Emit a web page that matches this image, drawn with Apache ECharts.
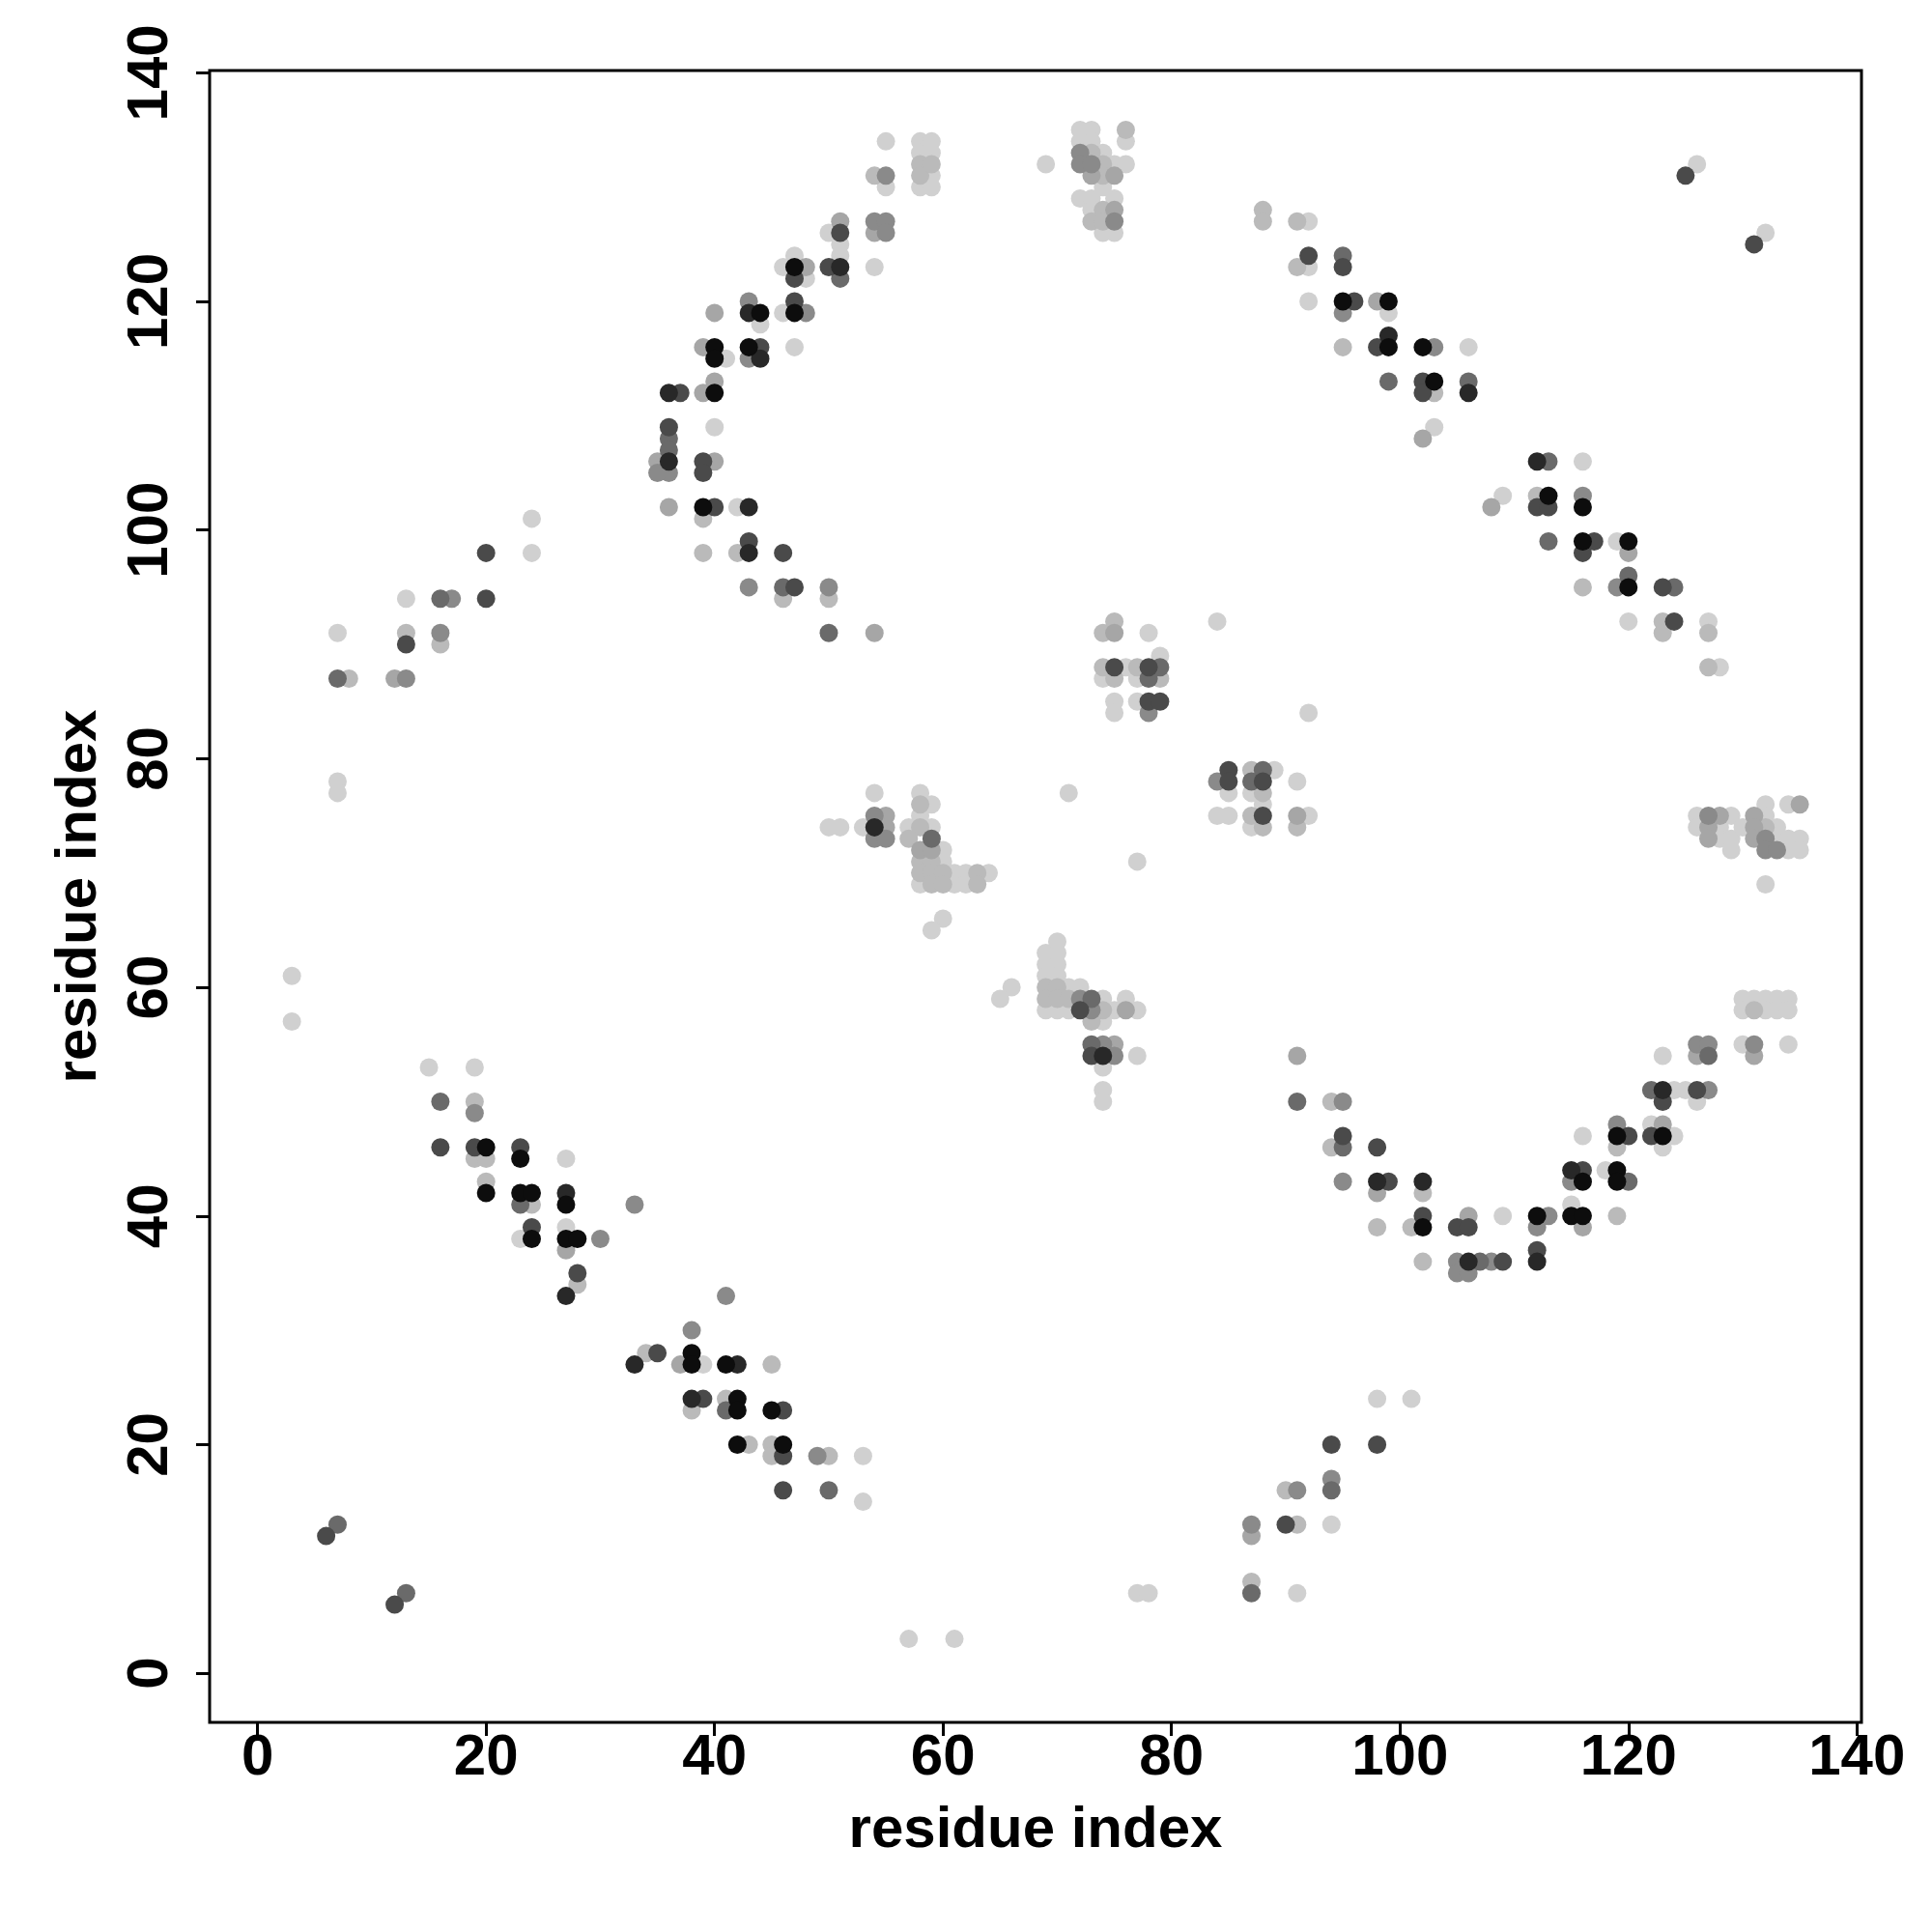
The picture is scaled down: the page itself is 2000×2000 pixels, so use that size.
<!DOCTYPE html>
<html>
<head>
<meta charset="utf-8">
<script src="https://cdn.jsdelivr.net/npm/echarts@6/dist/echarts.min.js"></script>
<style>
html,body{margin:0;padding:0;background:#fff;}
#chart{width:2000px;height:2000px;}
</style>
</head>
<body>
<div id="chart"></div>
<script>
// Tick labels
const tickValues = [0, 20, 40, 60, 80, 100, 120, 140];
const axisTitle = 'residue index';

// Gray shades (darkest = strongest contact)
const shadeLevels = ['#0d0d0d', '#282828', '#4a4a4a', '#6a6a6a', '#8a8a8a', '#a6a6a6', '#bababa', '#d0d0d0'];

// Contacts [i, j] grouped by shade level
const contactsL1 = [
  [20,46],[23,45],[20,42],[23,42],[24,42],[27,41],[24,38],[27,38],[28,38],[38,28],[38,27],[41,27],
  [42,24],[42,23],[45,23],[42,20],[46,20],
  [47,123],[44,119],[47,119],[40,116],[40,115],[43,116],[40,112],[39,102],
  [95,120],[99,120],[99,116],[102,116],[103,113],[113,103],[116,102],[116,99],[120,99],[120,95],
  [102,39],[112,40],[119,47],[123,47],[119,44],[116,43],[119,43],[115,40],[116,40]
];
const contactsL2 = [
  [27,42],[27,33],[33,27],[42,27],[38,24],
  [51,123],[43,119],[44,115],[36,112],[36,106],[43,102],[43,98],
  [99,117],[106,112],[112,106],
  [98,43],[102,43],[106,36],[112,36],[123,51],[115,44],
  [54,74],[74,54]
];
const contactsL3 = [
  [20,98],[20,94],[13,90],[6,12],[12,6],
  [16,46],[19,46],[23,46],[24,39],[28,35],[35,28],[39,24],[46,23],[46,19],[46,16],
  [94,20],[98,20],[90,13],
  [51,126],[47,122],[50,123],[47,120],[44,116],[37,112],[36,109],[39,106],[39,105],[40,102],[43,99],[46,98],[47,95],
  [92,124],[75,88],[78,88],[78,85],[79,85],[85,79],[85,78],[88,78],[88,75],
  [125,131],[131,125],[95,123],[96,120],[98,116],[102,113],[102,112],[112,102],[113,102],[117,99],[116,98],[123,95],[124,92],
  [72,58],[73,54],
  [95,47],[98,46],[99,43],[102,40],[105,39],[106,39],[109,36],[112,37],
  [126,51],[123,50],[120,47],[122,47],[116,44]
];
const contactsL4 = [
  [16,94],[7,87],[7,13],[13,7],
  [16,50],[23,41],[41,23],[50,16],
  [94,16],[87,7],
  [51,122],[36,108],[36,107],[46,95],[50,91],
  [79,88],[78,87],[88,79],[87,78],
  [95,124],[99,113],[106,113],[113,106],[113,99],[120,96],[124,95],
  [59,73],[73,59],[73,55],
  [91,50],[95,46],[107,36],
  [127,54],[122,51],[120,43]
];
const contactsL5 = [
  [17,94],[16,91],[13,87],
  [19,49],[33,41],[30,38],[41,33],[38,30],[49,19],
  [91,16],[94,17],[87,13],
  [55,131],[54,127],[55,127],[55,126],[43,120],[48,119],[43,115],[36,105],[35,105],[43,95],[50,95],
  [72,133],[72,132],[73,132],[75,127],[78,84],[84,78],
  [95,119],[103,116],[116,103],[119,95],
  [54,75],[54,73],[55,73],[72,59],[73,58],[74,55],[75,54],
  [95,50],[95,43],[113,40],[112,39],[105,36],[108,36],[105,35],[106,35],
  [127,75],[132,73],[132,72],[133,72],[131,55],[126,55],[127,55],[127,51],[119,48],[115,43]
];
const contactsL6 = [
  [12,87],
  [27,37],[37,27],
  [87,12],
  [51,127],[54,126],[48,123],[40,119],[39,116],[40,113],[39,112],[35,106],[40,106],[36,102],[54,91],
  [73,131],[75,131],[75,128],[75,91],[91,75],
  [98,120],[102,108],[108,102],[120,98],
  [55,75],[55,74],[58,72],[59,72],[76,58],[75,55],
  [91,54],[98,42],[106,40],
  [128,75],[127,74],[127,73],[131,75],[131,74],[131,73],[135,76],[131,54],[126,54],[123,48],[116,39]
];
const contactsL7 = [
  [13,91],[16,90],[8,87],
  [19,50],[19,45],[20,45],[20,43],[24,41],[28,34],[34,28],[45,27],[38,23],[41,24],[43,20],[45,20],[45,19],[50,19],
  [90,16],[91,13],[87,8],
  [58,132],[58,131],[59,132],[54,131],[39,101],[42,98],[39,98],[46,94],[50,94],
  [76,135],[73,133],[74,132],[74,131],[74,128],[73,127],[74,127],
  [88,128],[88,127],[91,127],[91,123],
  [75,92],[74,91],[74,88],[77,88],[75,87],[79,87],[87,79],[88,77],[87,75],[88,74],[91,74],
  [95,116],[103,112],[112,103],[116,95],[123,92],[123,91],[127,91],[127,88],
  [58,76],[58,74],[57,73],[58,71],[59,71],[58,70],[59,70],[60,70],[63,70],[59,69],[60,69],[63,69],
  [69,60],[70,60],[69,59],[70,59],[71,59],[74,58],[73,57],
  [94,50],[94,46],[102,42],[98,39],[101,39],[102,36],
  [132,74],[131,58],[119,46],[119,40]
];
const contactsL8 = [
  [24,101],[24,98],[13,94],[7,91],[7,78],[7,77],[3,61],[3,57],
  [15,53],[19,53],[27,45],[23,38],[27,39],[39,27],[53,19],[53,15],
  [98,24],[101,24],[94,13],[91,7],[57,3],[61,3],[77,7],[78,7],
  [55,134],[58,134],[58,133],[58,130],[59,134],[59,133],[59,131],[59,130],[55,130],[50,126],[51,125],[51,124],
  [46,123],[47,124],[48,122],[54,123],[44,118],[46,119],[47,116],[41,115],[40,109],[42,102],
  [69,132],[72,135],[73,135],[72,134],[73,134],[76,134],[74,133],[75,132],[76,132],[74,130],
  [72,129],[73,129],[75,129],[73,128],[74,126],[75,126],
  [92,127],[92,123],[92,120],
  [78,91],[84,92],[76,88],[79,89],[74,87],[77,87],[75,85],[77,85],[75,84],[92,84],
  [71,77],[89,79],[91,78],[85,77],[87,77],[88,76],[84,75],[85,75],[92,75],[87,74],[77,71],
  [126,132],[132,126],[99,119],[106,116],[103,109],[116,106],[109,103],[119,99],[120,92],[127,92],[128,88],
  [50,74],[51,74],[53,74],[54,77],[58,77],[59,76],[58,75],[57,74],[59,74],[60,72],[60,71],
  [61,70],[62,70],[64,70],[58,69],[61,69],[62,69],[60,66],[59,65],
  [66,60],[65,59],[70,64],[69,63],[70,63],[69,62],[70,62],[69,61],[70,61],[71,60],[72,60],
  [74,59],[76,59],[69,58],[70,58],[71,58],[75,58],[77,58],[74,57],[77,54],[74,53],[74,51],[74,50],
  [109,40],
  [126,75],[126,74],[129,75],[128,74],[128,73],[129,73],[129,72],[132,76],[132,75],[130,74],
  [133,74],[133,73],[134,73],[134,72],[135,73],[135,72],[134,76],[132,69],
  [130,59],[131,59],[132,59],[133,59],[134,59],[130,58],[132,58],[133,58],[134,58],
  [130,55],[134,55],[123,54],[124,51],[125,51],[126,50],[122,48],[124,47],[123,46],[116,47],[118,44],[115,41]
];

const contactGroups = [contactsL1, contactsL2, contactsL3, contactsL4, contactsL5, contactsL6, contactsL7, contactsL8];

const chart = echarts.init(document.getElementById('chart'), null, {renderer: 'canvas'});

const fontFamily = '"Liberation Sans", Arial, Helvetica, sans-serif';

// draw lightest first so darker contacts lie on top
const series = [];
for (let k = contactGroups.length - 1; k >= 0; k--) {
  series.push({
    type: 'scatter',
    data: contactGroups[k],
    symbol: 'circle',
    symbolSize: 19,
    itemStyle: {color: shadeLevels[k], opacity: 1},
    emphasis: {disabled: true},
    animation: false
  });
}

const axisCommon = {
  type: 'value',
  name: axisTitle,
  nameLocation: 'middle',
  nameTextStyle: {fontFamily: fontFamily, fontWeight: 'bold', fontSize: 60, color: '#000'},
  splitLine: {show: false},
  axisLine: {show: false, onZero: false},
  axisTick: {show: true, customValues: tickValues, length: 14, inside: false, lineStyle: {color: '#000', width: 3}},
  axisLabel: {show: true, customValues: tickValues, fontFamily: fontFamily, fontWeight: 'bold', fontSize: 60, color: '#000'}
};

chart.setOption({
  backgroundColor: '#fff',
  animation: false,
  grid: {left: 217, right: 73, top: 73, bottom: 217, show: true, borderColor: '#000', borderWidth: 3, backgroundColor: 'transparent', containLabel: false},
  xAxis: Object.assign({}, axisCommon, {
    min: -4.2, max: 140.4,
    nameGap: 82,
    axisLabel: Object.assign({}, axisCommon.axisLabel, {margin: 7})
  }),
  yAxis: Object.assign({}, axisCommon, {
    min: -4.3, max: 140.2,
    nameGap: 105,
    nameRotate: 90,
    axisLabel: Object.assign({}, axisCommon.axisLabel, {rotate: 90, margin: 31})
  }),
  series: series
});
</script>
</body>
</html>
